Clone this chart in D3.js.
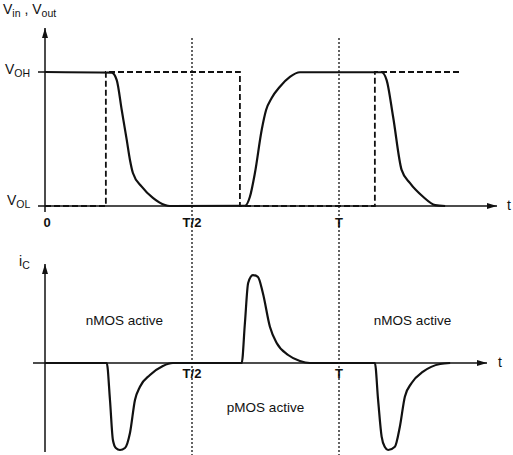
<!DOCTYPE html>
<html>
<head>
<meta charset="utf-8">
<script src="https://cdn.jsdelivr.net/npm/d3@7"></script>
<style>
  body { margin: 0; background: #fff; }
  text { font-family: "Liberation Sans", Arial, sans-serif; fill: #111; }
</style>
</head>
<body>
<div id="chart-area"></div>
<script>
// time in units of T, voltage 0 = V_OL, 1 = V_OH, current normalised to peak

// input voltage (dashed), step edges
var vinT = [0, 0.207, 0.207, 0.663, 0.663, 1.122, 1.122, 1.412];
var vinV = [0, 0, 1, 1, 0, 0, 1, 1];

// output voltage (solid)
var voutT = [0, 0.227, 0.244, 0.261, 0.278, 0.289, 0.299, 0.329, 0.367, 0.408, 0.425,
             0.680, 0.697, 0.714, 0.737, 0.752, 0.771, 0.799, 0.833, 0.867,
             1.145, 1.162, 1.184, 1.213, 1.241, 1.286, 1.327, 1.361];
var voutV = [1, 0.995, 0.94, 0.716, 0.493, 0.343, 0.246, 0.144, 0.06, 0.007, 0,
             0.002, 0.069, 0.246, 0.567, 0.716, 0.806, 0.89, 0.963, 0.998,
             0.998, 0.94, 0.666, 0.269, 0.172, 0.069, 0.007, 0];

// capacitor current i_C
var icT = [0, 0.21, 0.221, 0.231, 0.241, 0.255, 0.272, 0.289, 0.306, 0.323, 0.357, 0.401, 0.435,
           0.669, 0.680, 0.691, 0.707, 0.724, 0.741, 0.765, 0.788, 0.827, 0.867, 0.901,
           1.122, 1.133, 1.145, 1.156, 1.167, 1.190, 1.207, 1.224, 1.247, 1.286, 1.344, 1.378];
var icI = [0, 0, -0.425, -0.885, -0.977, -1.0, -0.977, -0.805, -0.425, -0.272, -0.138, -0.034, 0,
           0, 0.46, 0.92, 1.01, 0.99, 0.805, 0.417, 0.23, 0.092, 0.023, 0,
           0, -0.425, -0.847, -0.966, -1.0, -0.962, -0.732, -0.387, -0.23, -0.1, -0.011, 0];

var tickVals = [0, 0.5, 1];
var topTickLabels = ["0", "T/2", "T"];
var botTickVals = [0.5, 1];
var botTickLabels = ["T/2", "T"];
var regionLabels = ["nMOS active", "pMOS active", "nMOS active"];
var regionT = [0.27, 0.75, 1.25];
var regionI = [0.48, -0.52, 0.48];

var svg = d3.select("#chart-area").append("svg")
  .attr("width", 513)
  .attr("height", 455);

svg.append("defs").append("marker")
  .attr("id", "arrow")
  .attr("viewBox", "0 0 10 6")
  .attr("refX", 10).attr("refY", 3)
  .attr("markerWidth", 10).attr("markerHeight", 6)
  .attr("markerUnits", "userSpaceOnUse")
  .attr("orient", "auto")
  .append("path")
    .attr("d", "M0,0L10,3L0,6Z")
    .attr("fill", "#111");

var x = d3.scaleLinear().domain([0, 1]).range([45, 339]);
var yV = d3.scaleLinear().domain([0, 1]).range([206, 72]);
var yI = d3.scaleLinear().domain([-1, 1]).range([450, 276]);

// dotted guides at T/2 and T
svg.selectAll(".guide").data(tickVals.slice(1)).enter()
  .append("line")
    .attr("x1", function(d) { return x(d); })
    .attr("x2", function(d) { return x(d); })
    .attr("y1", 38).attr("y2", 455)
    .attr("stroke", "#111")
    .attr("stroke-width", 1.3)
    .attr("stroke-dasharray", "2,2");

// ---- top panel axes
svg.append("line")
  .attr("x1", 38).attr("x2", 497)
  .attr("y1", yV(0)).attr("y2", yV(0))
  .attr("stroke", "#111").attr("stroke-width", 1.5)
  .attr("marker-end", "url(#arrow)");
svg.append("line")
  .attr("x1", x(0)).attr("x2", x(0))
  .attr("y1", 212).attr("y2", 28)
  .attr("stroke", "#111").attr("stroke-width", 1.5)
  .attr("marker-end", "url(#arrow)");
svg.append("line")
  .attr("x1", 38).attr("x2", x(0))
  .attr("y1", yV(1)).attr("y2", yV(1))
  .attr("stroke", "#111").attr("stroke-width", 1.5);

svg.selectAll(".ttick").data(tickVals).enter()
  .append("text")
    .attr("x", function(d) { return x(d) + (d === 0 ? 2 : 0); })
    .attr("y", 227)
    .attr("text-anchor", "middle")
    .style("font-size", "13px")
    .style("font-weight", "bold")
    .text(function(d, i) { return topTickLabels[i]; });

var line = d3.line().curve(d3.curveMonotoneX);

// input (dashed)
svg.append("path")
  .attr("d", d3.line()(vinT.map(function(t, i) { return [x(t), yV(vinV[i])]; })))
  .attr("fill", "none")
  .attr("stroke", "#111")
  .attr("stroke-width", 1.8)
  .attr("stroke-dasharray", "6,3");

// output (solid)
svg.append("path")
  .attr("d", line(voutT.map(function(t, i) { return [x(t), yV(voutV[i])]; })))
  .attr("fill", "none")
  .attr("stroke", "#111")
  .attr("stroke-width", 2.2);

// labels
var lab = svg.append("text").attr("x", 3).attr("y", 14).style("font-size", "14px");
lab.append("tspan").text("V");
lab.append("tspan").attr("dy", 3).style("font-size", "10.5px").text("in");
lab.append("tspan").attr("dy", -3).text(" , V");
lab.append("tspan").attr("dy", 3).style("font-size", "10.5px").text("out");

var voh = svg.append("text").attr("x", 5).attr("y", 74).style("font-size", "14px");
voh.append("tspan").text("V");
voh.append("tspan").attr("dy", 3).style("font-size", "10.5px").text("OH");

var vol = svg.append("text").attr("x", 7).attr("y", 205).style("font-size", "14px");
vol.append("tspan").text("V");
vol.append("tspan").attr("dy", 3).style("font-size", "10.5px").text("OL");

svg.append("text").attr("x", 507).attr("y", 210).style("font-size", "14px").text("t");

// ---- bottom panel axes
svg.append("line")
  .attr("x1", 33).attr("x2", 487)
  .attr("y1", yI(0)).attr("y2", yI(0))
  .attr("stroke", "#111").attr("stroke-width", 1.5)
  .attr("marker-end", "url(#arrow)");
svg.append("line")
  .attr("x1", x(0)).attr("x2", x(0))
  .attr("y1", 452).attr("y2", 264)
  .attr("stroke", "#111").attr("stroke-width", 1.5)
  .attr("marker-end", "url(#arrow)");

svg.selectAll(".btick").data(botTickVals).enter()
  .append("text")
    .attr("x", function(d) { return x(d); })
    .attr("y", 378)
    .attr("text-anchor", "middle")
    .style("font-size", "13px")
    .style("font-weight", "bold")
    .text(function(d, i) { return botTickLabels[i]; });

svg.append("path")
  .attr("d", line(icT.map(function(t, i) { return [x(t), yI(icI[i])]; })))
  .attr("fill", "none")
  .attr("stroke", "#111")
  .attr("stroke-width", 2.2);

var ic = svg.append("text").attr("x", 19).attr("y", 266).style("font-size", "14px");
ic.append("tspan").text("i");
ic.append("tspan").attr("dy", 3).style("font-size", "10.5px").text("C");

svg.append("text").attr("x", 498).attr("y", 367).style("font-size", "14px").text("t");

svg.selectAll(".region").data(regionLabels).enter()
  .append("text")
    .attr("x", function(d, i) { return x(regionT[i]); })
    .attr("y", function(d, i) { return yI(regionI[i]) + 4; })
    .attr("text-anchor", "middle")
    .style("font-size", "13.5px")
    .text(function(d) { return d; });
</script>
</body>
</html>
